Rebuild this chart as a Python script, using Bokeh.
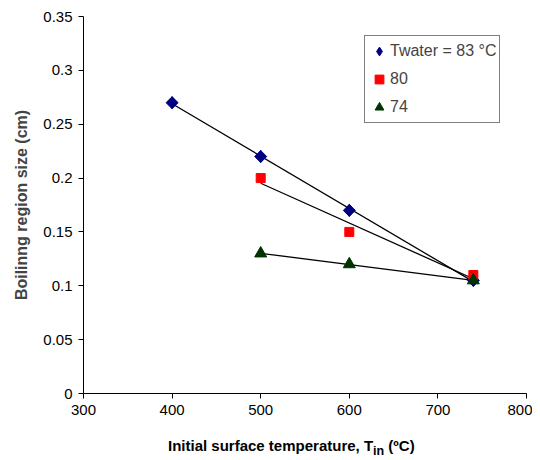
import numpy as np
from bokeh.plotting import figure
from bokeh.layouts import column
from bokeh.models import FixedTicker, Legend, LegendItem, Range1d, Div
from bokeh.embed import file_html
from bokeh.resources import INLINE

# ---- data ----
temp_83 = [400, 500, 600, 740]
size_83 = [0.27, 0.22, 0.17, 0.105]
temp_80 = [500, 600, 740]
size_80 = [0.20, 0.15, 0.11]
temp_74 = [500, 600, 740]
size_74 = [0.13, 0.12, 0.105]

series_labels = ["Twater = 83 \u00b0C", "80", "74"]
x_ticks = [300, 400, 500, 600, 700, 800]
y_ticks = [0, 0.05, 0.1, 0.15, 0.2, 0.25, 0.3, 0.35]
y_tick_labels = ["0", "0.05", "0.1", "0.15", "0.2", "0.25", "0.3", "0.35"]
y_title = "Boilinng region size (cm)"
x_title_html = "Initial surface temperature, T<sub>in</sub> (\u00baC)"

FONT = "Liberation Sans"

p = figure(width=532, height=426, output_backend="svg", toolbar_location=None,
           x_range=Range1d(300, 800), y_range=Range1d(0, 0.35),
           min_border_left=83, min_border_right=6, min_border_top=16, min_border_bottom=33)
p.outline_line_color = None
p.xgrid.visible = False
p.ygrid.visible = False
p.background_fill_color = "white"
p.border_fill_color = "white"

for ax in (p.xaxis[0], p.yaxis[0]):
    ax.axis_line_color = "black"
    ax.major_tick_line_color = "black"
    ax.major_tick_out = 5
    ax.major_tick_in = 0
    ax.minor_tick_line_color = None
    ax.major_label_text_font = FONT
    ax.major_label_text_font_size = "15px"
    ax.major_label_text_color = "black"
    ax.major_label_standoff = 6

p.xaxis.ticker = FixedTicker(ticks=x_ticks)
p.yaxis.ticker = FixedTicker(ticks=y_ticks)
p.yaxis.major_label_overrides = {t: s for t, s in zip(y_ticks, y_tick_labels)}
p.yaxis.axis_label = y_title
p.yaxis.axis_label_text_font = FONT
p.yaxis.axis_label_text_font_style = "bold"
p.yaxis.axis_label_text_font_size = "16px"
p.yaxis.axis_label_standoff = 10

# trend lines (linear fits)
def trend(xs, ys, color):
    k, b = np.polyfit(xs, ys, 1)
    xx = np.array([min(xs), max(xs)])
    p.line(xx, k * xx + b, line_color=color, line_width=1.3)

trend(temp_83, size_83, "black")
trend(temp_80, size_80, "black")
trend(temp_74, size_74, "black")

r83 = p.scatter(temp_83, size_83, marker="diamond", size=12, color="#000080")
p.scatter(temp_83, size_83, marker="square", angle=np.pi / 4, size=8.5, color="#000080")
r80 = p.scatter(temp_80, size_80, marker="square", size=9, color="#FF0000")
r74 = p.scatter(temp_74, size_74, marker="triangle", size=12, color="#003300")

legend = Legend(items=[LegendItem(label=series_labels[0], renderers=[r83]),
                       LegendItem(label=series_labels[1], renderers=[r80]),
                       LegendItem(label=series_labels[2], renderers=[r74])],
                location=(281, 270))
legend.border_line_color = "black"
legend.border_line_width = 1
legend.background_fill_color = "white"
legend.background_fill_alpha = 1
legend.label_text_font = FONT
legend.label_text_font_size = "16px"
legend.glyph_width = 22
legend.glyph_height = 24
legend.label_height = 24
legend.label_standoff = 0
legend.spacing = 4
legend.padding = 3
legend.margin = 0
p.add_layout(legend, "center")

title_div = Div(text=x_title_html, width=532, height=26,
                styles={"font-family": FONT, "font-weight": "bold", "font-size": "15px",
                        "color": "black", "padding-left": "163px", "padding-top": "6px",
                        "line-height": "17px", "white-space": "nowrap"})

layout = column(p, title_div, spacing=0)
open("out.html", "w").write(file_html(layout, INLINE))
